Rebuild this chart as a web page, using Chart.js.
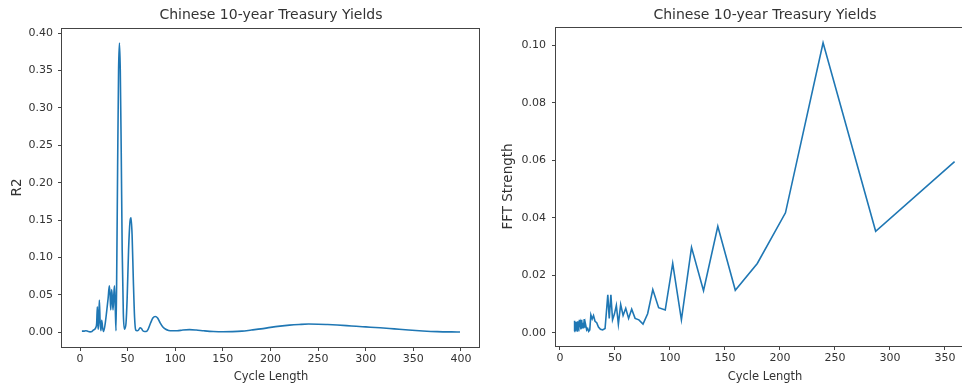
<!DOCTYPE html>
<html><head><meta charset="utf-8">
<script src="https://cdn.jsdelivr.net/npm/chart.js@4.4.1/dist/chart.umd.min.js"></script>
<style>
html,body{margin:0;padding:0;background:#fff;overflow:hidden;width:962px;height:387px;}
#c1{position:absolute;left:0;top:0;}
#c2{position:absolute;left:480px;top:0;}
</style></head><body>
<canvas id="c1" width="490" height="387"></canvas>
<canvas id="c2" width="500" height="387"></canvas>
<script>
const chartTitle = 'Chinese 10-year Treasury Yields';
const xLabel = 'Cycle Length';
const leftYLabel = 'R2';
const rightYLabel = 'FFT Strength';

const r2Cycles = [2, 4, 6, 8, 10.5, 12.5, 14, 15.5, 16.5, 17.5, 18.2, 18.8, 19.3, 20.3, 21.2, 22, 22.8, 23.8, 24.8, 26.5, 28, 29.5, 30.8, 31.6, 32.3, 33.2, 34, 34.7, 35.5, 36.2, 37, 37.8, 38.7, 39.5, 40.5, 41.4, 42.3, 43.3, 44.3, 45.5, 46.7, 48.3, 49.5, 51, 52.5, 53.6, 54.7, 56, 57.3, 58.5, 60, 61.5, 63, 64.5, 66, 68, 69.5, 71.5, 74, 76.5, 79, 81.5, 84, 87, 90, 93, 97, 102, 108, 115, 122, 130, 140, 150, 160, 170, 180, 190, 200, 210, 220, 230, 240, 250, 260, 270, 280, 290, 300, 315, 330, 345, 360, 375, 390, 399];
const r2Values = [0.0015, 0.0015, 0.002, 0.0015, 0.0005, 0.001, 0.003, 0.004, 0.006, 0.012, 0.034, 0.01, 0.004, 0.043, 0.012, 0.002, 0.016, 0.006, 0.001, 0.012, 0.028, 0.045, 0.062, 0.05, 0.03, 0.057, 0.045, 0.03, 0.05, 0.062, 0.035, 0.002, 0.1, 0.22, 0.35, 0.387, 0.35, 0.24, 0.11, 0.025, 0.004, 0.012, 0.045, 0.11, 0.148, 0.153, 0.13, 0.07, 0.02, 0.003, 0.002, 0.003, 0.006, 0.005, 0.002, 0.001, 0.001, 0.004, 0.012, 0.019, 0.021, 0.019, 0.013, 0.007, 0.004, 0.0025, 0.002, 0.002, 0.003, 0.0035, 0.003, 0.002, 0.001, 0.0006, 0.0008, 0.0015, 0.003, 0.0045, 0.0065, 0.0082, 0.0095, 0.0104, 0.011, 0.0108, 0.0103, 0.0097, 0.0089, 0.008, 0.0072, 0.006, 0.0045, 0.003, 0.0018, 0.0009, 0.0005, 0.0004];

const fftCycles = [13.0, 13.2, 13.4, 13.7, 13.9, 14.2, 14.5, 14.8, 15.1, 15.4, 15.8, 16.1, 16.5, 16.9, 17.3, 17.7, 18.2, 18.6, 19.1, 19.7, 20.2, 20.8, 21.4, 22.1, 22.8, 23.5, 24.3, 25.2, 26.1, 27.1, 28.1, 29.3, 30.5, 31.9, 33.4, 35.0, 36.8, 38.8, 41.0, 43.5, 44.8, 46.3, 47.8, 49.5, 51.25, 53.1, 55.2, 57.4, 59.8, 62.4, 65.2, 68.3, 71.75, 75.5, 79.7, 84.4, 89.7, 95.7, 102.5, 110.4, 119.6, 130.5, 143.5, 159.4, 179.4, 205, 239.2, 287, 358.75];
const fftValues = [0.0005, 0.0042, 0.0008, 0.0035, 0.0005, 0.003, 0.0012, 0.0038, 0.001, 0.0033, 0.0006, 0.004, 0.0015, 0.0035, 0.0012, 0.0045, 0.002, 0.003, 0.0012, 0.0045, 0.0018, 0.0035, 0.0015, 0.0048, 0.002, 0.0025, 0.001, 0.0015, 0.0005, 0.001, 0.0062, 0.0048, 0.006, 0.004, 0.0035, 0.002, 0.0012, 0.001, 0.0015, 0.0132, 0.005, 0.0132, 0.0045, 0.0065, 0.0095, 0.003, 0.0098, 0.006, 0.0085, 0.005, 0.0082, 0.005, 0.0045, 0.003, 0.0066, 0.015, 0.0087, 0.0079, 0.0241, 0.0045, 0.0297, 0.0146, 0.037, 0.0148, 0.0241, 0.0417, 0.1008, 0.0353, 0.0595];

const leftXTicks = [0, 50, 100, 150, 200, 250, 300, 350, 400];
const leftYTicks = [0, 0.05, 0.10, 0.15, 0.20, 0.25, 0.30, 0.35, 0.40];
const rightXTicks = [0, 50, 100, 150, 200, 250, 300, 350];
const rightYTicks = [0, 0.02, 0.04, 0.06, 0.08, 0.10];

const F = "'DejaVu Sans', sans-serif";
const TXT = '#333';
const AX = '#444';

const framePlugin = {
  id: 'frame',
  afterDraw(chart) {
    const {ctx, chartArea: a} = chart;
    ctx.save();
    ctx.strokeStyle = AX;
    ctx.lineWidth = 1;
    const l = Math.round(a.left) - 0.5, t = Math.round(a.top) + 0.5;
    const r = Math.round(a.right) - 0.5, b = Math.round(a.bottom) + 0.5;
    ctx.strokeRect(l, t, r - l, b - t);
    ctx.restore();
  }
};

function build(id, cycles, values, c) {
  return new Chart(document.getElementById(id), {
    type: 'line',
    data: { datasets: [{
      data: cycles.map((x, i) => ({x: x, y: values[i]})),
      borderColor: '#1f77b4', borderWidth: 1.6, pointRadius: 0, fill: false,
      tension: 0, cubicInterpolationMode: c.monotone ? 'monotone' : 'default'
    }]},
    options: {
      responsive: false, animation: false, devicePixelRatio: 1,
      layout: { padding: { left: 0, right: c.padRight, top: 0, bottom: 0 } },
      plugins: {
        legend: { display: false }, tooltip: { enabled: false },
        title: { display: true, text: chartTitle, fullSize: false, color: TXT,
          font: { family: F, size: 14, weight: 'normal', lineHeight: 1.2 },
          padding: { top: 7, bottom: c.titleH - 16.8 - 7 } }
      },
      scales: {
        x: {
          type: 'linear', min: c.xMin, max: c.xMax,
          afterFit: s => { s.height = c.xH; },
          afterBuildTicks: s => { s.ticks = c.xTicks.map(v => ({value: v})); },
          ticks: { color: TXT, font: { family: F, size: 11 }, padding: 2, maxRotation: 0, autoSkip: false,
            callback: v => String(v) },
          grid: { display: true, drawOnChartArea: false, drawTicks: true, tickLength: 4, color: AX },
          border: { display: false },
          title: { display: true, text: xLabel, color: TXT, font: { family: F, size: 11.5 }, padding: { top: 0, bottom: 3 } }
        },
        y: {
          type: 'linear', min: c.yMin, max: c.yMax,
          afterFit: s => { s.width = c.yW; },
          afterBuildTicks: s => { s.ticks = c.yTicks.map(v => ({value: v})); },
          ticks: { color: TXT, font: { family: F, size: 11 }, padding: c.yPad, autoSkip: false,
            callback: v => Number(v).toFixed(2) },
          grid: { display: true, drawOnChartArea: false, drawTicks: true, tickLength: 4, color: AX },
          border: { display: false },
          title: { display: true, text: c.yLabel, color: TXT, font: { family: F, size: 13.5 }, padding: { top: c.yTitlePad, bottom: 0 } }
        }
      }
    },
    plugins: [framePlugin]
  });
}

build('c1', r2Cycles, r2Values, {
  monotone: true, padRight: 10, titleH: 28, xH: 40, yW: 62,
  xMin: -18.9, xMax: 420, yMin: -0.0197, yMax: 0.407,
  xTicks: leftXTicks, yTicks: leftYTicks, yLabel: leftYLabel, yPad: 5, yTitlePad: 8.9
});
build('c2', fftCycles, fftValues, {
  monotone: false, padRight: 6, titleH: 27, xH: 41, yW: 76,
  xMin: -3.6, xMax: 376.4, yMin: -0.0046, yMax: 0.1063,
  xTicks: rightXTicks, yTicks: rightYTicks, yLabel: rightYLabel, yPad: 6, yTitlePad: 19.9
});
</script>
</body></html>
